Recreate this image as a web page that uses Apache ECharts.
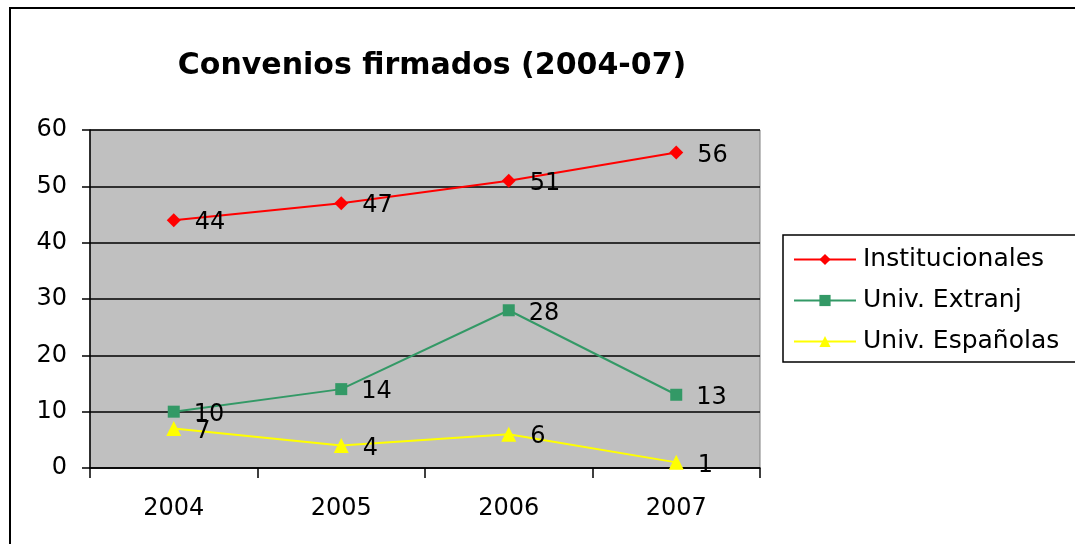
<!DOCTYPE html>
<html><head><meta charset="utf-8">
<script src="https://cdn.jsdelivr.net/npm/echarts@6/dist/echarts.min.js"></script>
<style>html,body{margin:0;padding:0;background:#fff}#c{width:1075px;height:544px}</style>
</head><body><div id="c"></div>
<script>
const categories = ['2004','2005','2006','2007'];
const institucionales = [44, 47, 51, 56];
const univExtranj = [10, 14, 28, 13];
const univEspanolas = [7, 4, 6, 1];
const seriesNames = ['Institucionales','Univ. Extranj','Univ. Españolas'];

const chart = echarts.init(document.getElementById('c'));
const font = '"DejaVu Sans", Arial, sans-serif';
const lbl = {show:true, position:'right', distance:14, offset:[0,3], color:'#000', fontSize:24, fontFamily:font};
function mk(name, data, color, symbol, size){
  return {name, type:'line', data, symbol, symbolSize:size, color,
    lineStyle:{color, width:2}, itemStyle:{color}, label:lbl, animation:false, z:3};
}
chart.setOption({
  animation:false,
  backgroundColor:'#fff',
  title:{text:'Convenios firmados (2004-07)', left:427, top:46, textAlign:'center',
    textStyle:{fontSize:30, fontWeight:'bold', color:'#000', fontFamily:font}},
  grid:{left:90, top:130, width:670, height:338, show:true, backgroundColor:'#c0c0c0', borderColor:'#808080', borderWidth:1},
  legend:{orient:'vertical', left:783, top:235, padding:[12,26,8,10], itemGap:16,
    itemWidth:62, itemHeight:14, borderColor:'#000', borderWidth:1.5, backgroundColor:'#fff',
    textStyle:{fontSize:25, color:'#000', fontFamily:font, padding:[0,0,0,2]},
    data:seriesNames},
  xAxis:{type:'category', data:categories, boundaryGap:true,
    axisLine:{lineStyle:{color:'#000', width:1.5}},
    axisTick:{show:true, length:10, inside:false, lineStyle:{color:'#000', width:1.5}},
    axisLabel:{fontSize:24, color:'#000', fontFamily:font, margin:29}},
  yAxis:{type:'value', min:0, max:60, interval:10,
    axisLine:{show:true, lineStyle:{color:'#000', width:1.5}},
    axisTick:{show:true, length:8, lineStyle:{color:'#000', width:1.5}},
    axisLabel:{fontSize:24, color:'#000', fontFamily:font, margin:23},
    splitLine:{show:true, lineStyle:{color:'#000', width:1.5}}},
  graphic:[{type:'rect', shape:{x:10, y:8, width:1080, height:560}, style:{fill:'none', stroke:'#000', lineWidth:2}, silent:true, z:-10}],
  series:[
    mk(seriesNames[0], institucionales, '#ff0000', 'diamond', 14),
    mk(seriesNames[1], univExtranj, '#339966', 'rect', 12),
    mk(seriesNames[2], univEspanolas, '#ffff00', 'triangle', 15)
  ]
});
</script></body></html>
